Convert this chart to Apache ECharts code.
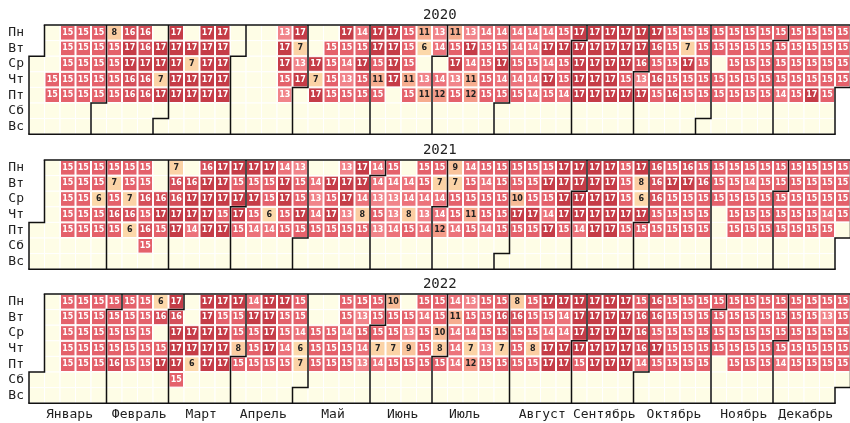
<!DOCTYPE html>
<html>
<head>
<meta charset="utf-8">
<script src="https://cdn.jsdelivr.net/npm/echarts@6/dist/echarts.min.js"></script>
<style>
  html, body { margin: 0; background: #fff; }
  #main { width: 850px; height: 423px; }
</style>
</head>
<body>
<div id="main"></div>
<script>
const years = [2020, 2021, 2022];
const dayNames = ['Вс', 'Пн', 'Вт', 'Ср', 'Чт', 'Пт', 'Сб'];
const monthNames = ['Январь', 'Февраль', 'Март', 'Апрель', 'Май', 'Июнь',
                    'Июль', 'Август', 'Сентябрь', 'Октябрь', 'Ноябрь', 'Декабрь'];

// hours per weekday, one entry per week column of the calendar (null = nothing logged)
const mon2020 = [null,null,15,15,15,8,16,16,null,17,null,17,17, null,null,null,13,17,null,null,17,14,17,17,15,11,13, 11,13,14,14,14,14,14,15,17,17,17,17,17, 17,15,15,15,15,15,15,15,15,15,15,15,15];
const tue2020 = [null,null,15,15,15,15,17,16,17,17,17,17,17, null,null,null,17,7,null,15,15,15,17,17,15,6,14, 15,17,15,15,14,14,17,17,17,17,17,17,17, 16,15,7,15,15,15,15,15,15,15,15,15,15];
const wed2020 = [null,null,15,15,15,15,17,17,17,17,7,17,17, null,null,null,17,13,17,15,14,17,15,17,15,null,null, 17,14,15,17,15,15,14,15,17,17,17,17,16, 15,15,17,15,null,15,15,15,15,15,15,15,15];
const thu2020 = [null,15,15,15,15,15,16,16,7,17,17,17,17, null,null,null,15,17,7,15,13,15,11,17,11,13,14, 13,11,15,14,14,14,17,15,17,17,17,15,13, 16,15,15,15,15,15,15,15,15,15,15,15,15];
const fri2020 = [null,15,15,15,15,15,16,16,17,17,17,17,17, null,null,null,13,null,17,15,15,15,15,null,15,11,12, 15,12,15,15,15,14,15,14,17,17,17,17,17, 15,16,15,15,15,15,15,15,14,15,17,15,null];

const mon2021 = [null,null,15,15,15,15,15,15,null,7,null,16,17, 17,17,17,14,13,null,null,13,17,14,15,null,15,15, 9,14,15,15,15,15,15,17,17,17,17,15,17, 16,15,16,15,15,15,15,15,15,15,15,15,15];
const tue2021 = [null,null,15,15,15,7,15,15,null,16,16,17,17, 15,15,15,17,15,14,17,17,17,14,14,14,15,7, 7,15,14,15,15,15,17,17,17,17,17,15,8, 16,17,17,16,15,15,14,15,15,15,15,15,15];
const wed2021 = [null,null,15,15,6,15,7,16,16,16,17,17,17, 17,17,15,17,15,13,15,17,14,13,13,14,14,14, 15,15,15,15,10,15,15,17,17,17,17,15,6, 16,15,15,15,15,15,15,15,15,15,15,15,15];
const thu2021 = [null,null,15,15,15,16,16,15,17,17,17,17,15, 17,15,6,15,17,14,17,13,8,15,13,8,13,14, 15,11,15,15,17,17,14,17,17,17,17,17,17, 15,15,15,15,null,15,15,15,15,15,15,14,15];
const fri2021 = [null,null,15,15,15,15,6,16,15,17,14,17,17, 15,14,14,15,15,15,15,15,15,13,14,15,14,12, 14,15,14,15,15,15,17,15,14,17,17,15,15, 15,15,15,15,null,15,15,15,15,15,15,15,null];

const mon2022 = [null,null,15,15,15,15,15,15,6,17,null,17,17, 17,14,17,17,15,null,null,15,15,15,10,null,15,15, 14,13,15,15,8,15,17,17,17,17,17,17,15, 16,15,15,15,15,15,15,15,15,15,15,15,15];
const tue2022 = [null,null,15,15,15,15,15,15,16,16,null,17,15, 15,17,17,15,15,null,null,15,13,15,15,15,14,15, 11,15,15,16,16,15,15,14,17,17,17,17,16, 16,15,15,15,15,15,15,15,15,15,15,13,15];
const wed2022 = [null,null,15,15,15,15,15,15,null,17,17,17,17, 15,15,17,15,14,15,15,14,15,15,15,13,15,10, 14,14,15,15,15,15,14,14,17,17,17,17,16, 15,15,15,15,15,15,15,15,15,15,15,15,15];
const thu2022 = [null,null,15,15,15,15,15,15,15,17,17,17,17, 8,15,17,14,6,15,15,15,14,7,7,9,15,8, 14,7,13,7,15,8,17,17,17,17,17,17,16, 17,15,15,15,15,15,15,15,15,15,15,15,15];
const fri2022 = [null,null,15,15,15,16,15,15,17,17,6,17,17, 15,15,15,15,7,15,15,15,13,14,15,15,15,15, 14,12,15,15,15,15,17,17,15,17,17,17,14, 15,15,15,15,null,15,15,15,14,15,15,15,15];

// working saturdays
const extraDays = ['2021-02-20', '2022-03-05'];
const extraHours = [15, 15];

const weekRows = {
    2020: [mon2020, tue2020, wed2020, thu2020, fri2020],
    2021: [mon2021, tue2021, wed2021, thu2021, fri2021],
    2022: [mon2022, tue2022, wed2022, thu2022, fri2022]
};

// colour per value 6..17
const palette = ['#fcd8aa', '#fbd3a6', '#fbcda2', '#f9c49c', '#f8ba96', '#f6ad8f', '#f49b88',
                 '#f1848a', '#ec737b', '#e4616b', '#d54f5a', '#c53c47'];

const tops = [25, 160, 294];
const fontMono = 'DejaVu Sans Mono';

function fmt(d) {
    return d.toISOString().slice(0, 10);
}

function buildYear(year) {
    let first = new Date(Date.UTC(year, 0, 1));
    let shift = (first.getUTCDay() + 6) % 7;
    let start = first.getTime() - shift * 86400000;
    let out = [];
    weekRows[year].forEach((row, wd) => {
        row.forEach((v, k) => {
            if (v === null) return;
            let d = new Date(start + (k * 7 + wd) * 86400000);
            out.push({ value: [fmt(d), v], label: { color: v <= 12 ? '#222' : '#fff' } });
        });
    });
    extraDays.forEach((ds, i) => {
        if (ds.slice(0, 4) === String(year)) {
            let v = extraHours[i];
            out.push({ value: [ds, v], label: { color: v <= 12 ? '#222' : '#fff' } });
        }
    });
    return out;
}

let calendars = years.map((y, i) => ({
    left: 29,
    top: tops[i],
    cellSize: [15.5, 15.6],
    orient: 'horizontal',
    range: String(y),
    itemStyle: { color: '#fefde6', borderColor: '#fff', borderWidth: 1 },
    splitLine: { show: true, lineStyle: { color: '#111', width: 1.5 } },
    yearLabel: {
        show: true, position: 'top', margin: 3,
        fontFamily: fontMono, fontSize: 14, fontWeight: 'normal', color: '#222'
    },
    dayLabel: {
        show: true, firstDay: 1, position: 'start', margin: 5, nameMap: dayNames,
        fontFamily: fontMono, fontSize: 13, color: '#222'
    },
    monthLabel: {
        show: i === years.length - 1, position: 'end', align: 'center', margin: 5,
        padding: [0, 12, 0, 0],
        nameMap: monthNames, fontFamily: fontMono, fontSize: 13, color: '#222'
    }
}));

let series = years.map((y, i) => ({
    type: 'heatmap',
    coordinateSystem: 'calendar',
    calendarIndex: i,
    data: buildYear(y),
    itemStyle: { borderColor: '#fff', borderWidth: 1 },
    label: {
        show: true,
        formatter: p => p.value[1],
        fontFamily: 'DejaVu Sans',
        fontSize: 8,
        fontWeight: 'bold'
    },
    emphasis: { disabled: true }
}));

let chartDom = document.getElementById('main');
let myChart = echarts.init(chartDom);
myChart.setOption({
    animation: false,
    visualMap: {
        show: false,
        type: 'continuous',
        min: 6,
        max: 17,
        dimension: 1,
        seriesIndex: [0, 1, 2],
        inRange: { color: palette }
    },
    calendar: calendars,
    series: series
});
</script>
</body>
</html>
